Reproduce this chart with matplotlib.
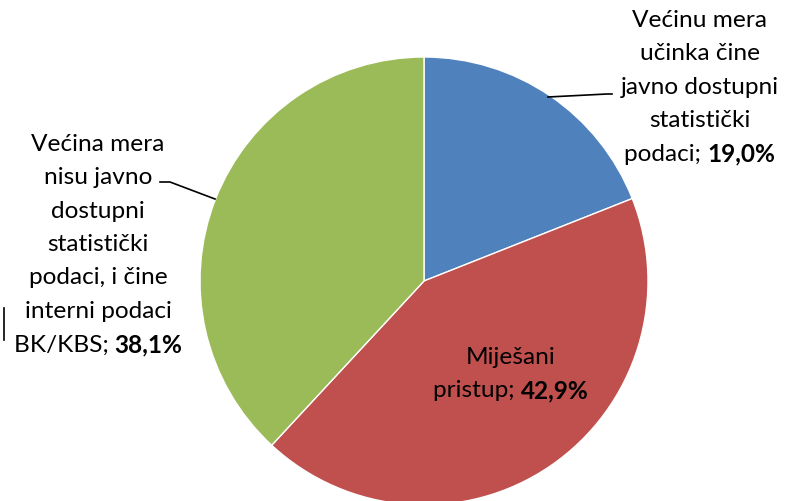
import matplotlib
matplotlib.use("Agg")
from matplotlib import pyplot as plt

# shares in percent
labels = ["Većinu mera\nučinka čine\njavno dostupni\nstatistički\npodaci; ",
          "Miješani\npristup; ",
          "Većina mera\nnisu javno\ndostupni\nstatistički\npodaci, i čine\ninterni podaci\nBK/KBS; "]
values = [19.0, 42.9, 38.1]
colors = ["#4F81BD", "#C0504D", "#9BBB59"]

W, H = 785, 501
plt.rcParams['font.family'] = ['Lato', 'DejaVu Sans']

fig = plt.figure(figsize=(W / 100, H / 100), dpi=100)
ax = fig.add_axes([0, 0, 1, 1])

cx, cy, r = 424, H - 281, 224
ax.pie(values, colors=colors, startangle=90, counterclock=False,
       center=(cx, cy), radius=r, frame=True,
       wedgeprops=dict(edgecolor="white", linewidth=1))
ax.set_xlim(0, W)
ax.set_ylim(0, H)
ax.set_aspect("equal")
ax.axis("off")

fs = 17.6


def label(x, ytop, text, value, lh=33.5):
    lines = text.split("\n")
    for i, ln in enumerate(lines):
        y = H - (ytop + i * lh)
        if i == len(lines) - 1:
            t1 = ax.text(0, 0, ln, fontsize=fs)
            t2 = ax.text(0, 0, f"{value:.1f}%".replace(".", ","), fontsize=fs,
                         fontweight="bold")
            fig.canvas.draw()
            rnd = fig.canvas.get_renderer()
            w1 = t1.get_window_extent(rnd).width
            w2 = t2.get_window_extent(rnd).width
            x0 = x - (w1 + w2) / 2
            t1.set_position((x0, y))
            t1.set_va("center")
            t2.set_position((x0 + w1, y))
            t2.set_va("center")
        else:
            ax.text(x, y, ln, fontsize=fs, ha="center", va="center")


label(700, 20, labels[0], values[0])
label(511, 357, labels[1], values[1])
label(98, 144, labels[2], values[2])

# leader lines
ax.plot([548, 607, 612], [H - 97, H - 94, H - 94], color="black", lw=1.2)
ax.plot([160, 170, 215], [H - 182, H - 182, H - 199], color="black", lw=1.2)
ax.plot([4, 4], [H - 308, H - 340], color="black", lw=1.2)

fig.savefig("out.png", dpi=100)
